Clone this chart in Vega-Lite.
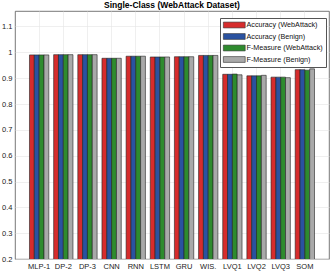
{
  "$schema": "https://vega.github.io/schema/vega-lite/v6.json",
  "width": 314,
  "height": 248,
  "autosize": {"type": "none"},
  "padding": {"left": 15, "top": 11, "right": 3, "bottom": 13},
  "title": {"text": "Single-Class (WebAttack Dataset)", "fontSize": 8.5, "font": "Liberation Sans", "fontWeight": "bold", "color": "#000", "offset": 2, "anchor": "middle"},
  "config": {
    "view": {"stroke": "#555", "strokeWidth": 0.8},
    "font": "Liberation Sans"
  },
  "data": {
    "values": [
      {"model": "MLP-1", "metric": "Accuracy (WebAttack)", "value": 0.99},
      {"model": "MLP-1", "metric": "Accuracy (Benign)", "value": 0.99},
      {"model": "MLP-1", "metric": "F-Measure (WebAttack)", "value": 0.99},
      {"model": "MLP-1", "metric": "F-Measure (Benign)", "value": 0.99},
      {"model": "DP-2", "metric": "Accuracy (WebAttack)", "value": 0.991},
      {"model": "DP-2", "metric": "Accuracy (Benign)", "value": 0.991},
      {"model": "DP-2", "metric": "F-Measure (WebAttack)", "value": 0.991},
      {"model": "DP-2", "metric": "F-Measure (Benign)", "value": 0.991},
      {"model": "DP-3", "metric": "Accuracy (WebAttack)", "value": 0.991},
      {"model": "DP-3", "metric": "Accuracy (Benign)", "value": 0.991},
      {"model": "DP-3", "metric": "F-Measure (WebAttack)", "value": 0.991},
      {"model": "DP-3", "metric": "F-Measure (Benign)", "value": 0.991},
      {"model": "CNN", "metric": "Accuracy (WebAttack)", "value": 0.977},
      {"model": "CNN", "metric": "Accuracy (Benign)", "value": 0.977},
      {"model": "CNN", "metric": "F-Measure (WebAttack)", "value": 0.977},
      {"model": "CNN", "metric": "F-Measure (Benign)", "value": 0.977},
      {"model": "RNN", "metric": "Accuracy (WebAttack)", "value": 0.985},
      {"model": "RNN", "metric": "Accuracy (Benign)", "value": 0.985},
      {"model": "RNN", "metric": "F-Measure (WebAttack)", "value": 0.985},
      {"model": "RNN", "metric": "F-Measure (Benign)", "value": 0.985},
      {"model": "LSTM", "metric": "Accuracy (WebAttack)", "value": 0.982},
      {"model": "LSTM", "metric": "Accuracy (Benign)", "value": 0.982},
      {"model": "LSTM", "metric": "F-Measure (WebAttack)", "value": 0.982},
      {"model": "LSTM", "metric": "F-Measure (Benign)", "value": 0.982},
      {"model": "GRU", "metric": "Accuracy (WebAttack)", "value": 0.983},
      {"model": "GRU", "metric": "Accuracy (Benign)", "value": 0.983},
      {"model": "GRU", "metric": "F-Measure (WebAttack)", "value": 0.983},
      {"model": "GRU", "metric": "F-Measure (Benign)", "value": 0.983},
      {"model": "WIS.", "metric": "Accuracy (WebAttack)", "value": 0.988},
      {"model": "WIS.", "metric": "Accuracy (Benign)", "value": 0.988},
      {"model": "WIS.", "metric": "F-Measure (WebAttack)", "value": 0.988},
      {"model": "WIS.", "metric": "F-Measure (Benign)", "value": 0.988},
      {"model": "LVQ1", "metric": "Accuracy (WebAttack)", "value": 0.915},
      {"model": "LVQ1", "metric": "Accuracy (Benign)", "value": 0.915},
      {"model": "LVQ1", "metric": "F-Measure (WebAttack)", "value": 0.916},
      {"model": "LVQ1", "metric": "F-Measure (Benign)", "value": 0.913},
      {"model": "LVQ2", "metric": "Accuracy (WebAttack)", "value": 0.909},
      {"model": "LVQ2", "metric": "Accuracy (Benign)", "value": 0.909},
      {"model": "LVQ2", "metric": "F-Measure (WebAttack)", "value": 0.909},
      {"model": "LVQ2", "metric": "F-Measure (Benign)", "value": 0.911},
      {"model": "LVQ3", "metric": "Accuracy (WebAttack)", "value": 0.904},
      {"model": "LVQ3", "metric": "Accuracy (Benign)", "value": 0.904},
      {"model": "LVQ3", "metric": "F-Measure (WebAttack)", "value": 0.904},
      {"model": "LVQ3", "metric": "F-Measure (Benign)", "value": 0.902},
      {"model": "SOM", "metric": "Accuracy (WebAttack)", "value": 0.933},
      {"model": "SOM", "metric": "Accuracy (Benign)", "value": 0.933},
      {"model": "SOM", "metric": "F-Measure (WebAttack)", "value": 0.931},
      {"model": "SOM", "metric": "F-Measure (Benign)", "value": 0.936}
    ]
  },
  "mark": {"type": "bar", "stroke": "#222", "strokeWidth": 0.6, "clip": true},
  "encoding": {
    "x": {
      "field": "model", "type": "nominal", "sort": null,
      "scale": {"paddingInner": 0.2, "paddingOuter": 0.6},
      "axis": {"title": null, "labelAngle": 0, "labelFontSize": 7.5, "labelColor": "#222", "ticks": false, "labelPadding": 3, "domain": false, "grid": true, "gridColor": "#e4e4e4", "gridWidth": 0.6, "bandPosition": 0.5}
    },
    "xOffset": {
      "field": "metric", "type": "nominal",
      "sort": ["Accuracy (WebAttack)", "Accuracy (Benign)", "F-Measure (WebAttack)", "F-Measure (Benign)"],
      "scale": {"paddingInner": 0, "paddingOuter": 0}
    },
    "y": {
      "field": "value", "type": "quantitative",
      "scale": {"domain": [0.2, 1.16], "nice": false, "zero": false},
      "axis": {"title": null, "values": [0.2, 0.3, 0.4, 0.5, 0.6, 0.7, 0.8, 0.9, 1, 1.1], "format": ".1~f", "labelFontSize": 7.5, "labelColor": "#222", "ticks": false, "labelPadding": 3, "domain": false, "gridColor": "#e4e4e4", "gridWidth": 0.6}
    },
    "color": {
      "field": "metric", "type": "nominal",
      "sort": ["Accuracy (WebAttack)", "Accuracy (Benign)", "F-Measure (WebAttack)", "F-Measure (Benign)"],
      "scale": {"domain": ["Accuracy (WebAttack)", "Accuracy (Benign)", "F-Measure (WebAttack)", "F-Measure (Benign)"], "range": ["#d62c2c", "#2a52a0", "#2e8b2e", "#a9a9a9"]},
      "legend": {
        "title": null, "orient": "none", "legendX": 205, "legendY": 7,
        "symbolType": "M-1,-0.8H5V0.8H-1Z", "symbolSize": 53, "symbolStrokeColor": "#333", "symbolStrokeWidth": 0.6, "symbolOpacity": 1,
        "labelFontSize": 7.2, "labelColor": "#111", "labelOffset": 15.5, "rowPadding": 1.5,
        "strokeColor": "#555", "fillColor": "#fff", "padding": 3, "cornerRadius": 0
      }
    }
  }
}
